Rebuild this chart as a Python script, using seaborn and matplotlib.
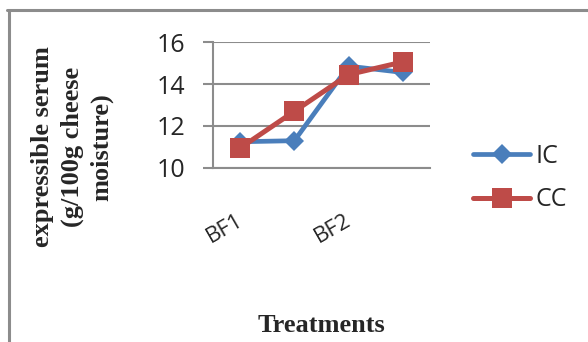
import matplotlib
matplotlib.use("Agg")
import matplotlib.pyplot as plt
import matplotlib.transforms as mtrans
import seaborn as sns
import pandas as pd
from matplotlib.lines import Line2D

categories = ["BF1", "T2", "BF2", "T4"]
tick_labels = ["BF1", "", "BF2", ""]
ic_values = [11.25, 11.3, 14.85, 14.55]
cc_values = [10.95, 12.7, 14.45, 15.05]
y_ticks = [10, 12, 14, 16]

sns.set_style("white")
plt.rcParams["font.family"] = ["Open Sans", "DejaVu Sans"]

df_ic = pd.DataFrame({"Treatment": categories, "value": ic_values})
df_cc = pd.DataFrame({"Treatment": categories, "value": cc_values})

W, H = 588, 342
fig = plt.figure(figsize=(W / 100, H / 100), dpi=100)
ax = fig.add_axes([213 / W, 1 - 168 / H, (430 - 213) / W, (168 - 42) / H])

grey = "#8c8c8c"
blue = "#4a7ebb"
red = "#be4b48"

sns.lineplot(data=df_ic, x="Treatment", y="value", ax=ax, color=blue, marker="D",
             markersize=10, markeredgewidth=0, linewidth=3.4, sort=False, label="IC")
sns.lineplot(data=df_cc, x="Treatment", y="value", ax=ax, color=red, marker="s",
             markersize=14, markeredgewidth=0, linewidth=3.6, sort=False, label="CC")

ax.set_xlim(-0.5, 3.5)
ax.set_ylim(10, 16)
ax.set_yticks(y_ticks)
ax.set_yticklabels([str(v) for v in y_ticks])
ax.set_xticks(range(len(categories)))
ax.set_xticklabels(tick_labels, rotation=30, ha="right", rotation_mode="anchor", fontsize=16)
ax.set_xticks([i - 0.5 for i in range(len(categories) + 1)], minor=True)
ax.tick_params(axis="x", which="major", length=0, pad=30)
ax.tick_params(axis="x", which="minor", length=7.2, width=1.5, color=grey, direction="out")
ax.tick_params(axis="y", which="major", length=7.2, width=1.5, color=grey, direction="out",
               pad=13, labelsize=18, left=True)
offset = mtrans.ScaledTranslation(-4 / 100, 0, fig.dpi_scale_trans)
for lbl in ax.get_xticklabels():
    lbl.set_transform(lbl.get_transform() + offset)
ax.set_xlabel("")
ax.set_ylabel("")

ax.yaxis.grid(True, color=grey, linewidth=1.5)
ax.xaxis.grid(False)
ax.set_axisbelow(True)
for side in ["top", "right"]:
    ax.spines[side].set_visible(False)
for side in ["left", "bottom"]:
    ax.spines[side].set_color(grey)
    ax.spines[side].set_linewidth(1.5)

handles, labels = ax.get_legend_handles_labels()
ax.legend(handles, labels, loc="center left", bbox_to_anchor=(473 / W, 1 - 178 / H),
          bbox_transform=fig.transFigure, frameon=False, fontsize=18, handlelength=2.3,
          labelspacing=0.75, handletextpad=0.2, borderaxespad=0, borderpad=0)

fig.add_artist(Line2D([7 / W, 1], [1 - 9.5 / H] * 2, transform=fig.transFigure,
                      color=grey, linewidth=2.2))
fig.add_artist(Line2D([8.5 / W] * 2, [1 - 9.5 / H, 0], transform=fig.transFigure,
                      color=grey, linewidth=2.2))

fig.text(72 / W, 1 - 147 / H, "expressible serum\n(g/100g cheese\nmoisture)", rotation=90,
         ha="center", va="center", multialignment="center", family="Liberation Serif",
         fontweight="bold", fontsize=19, linespacing=1.35)
fig.text(321 / W, 1 - 332 / H, "Treatments", ha="center", va="baseline",
         family="Liberation Serif", fontweight="bold", fontsize=19)

fig.savefig("out.png", dpi=100)
